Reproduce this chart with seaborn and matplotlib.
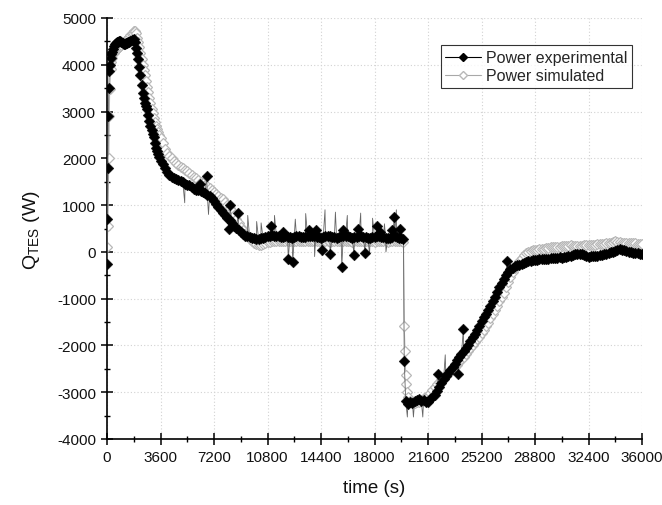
import numpy as np
import pandas as pd
import matplotlib
matplotlib.use("Agg")
import matplotlib.pyplot as plt
import seaborn as sns
from matplotlib.lines import Line2D
from matplotlib.ticker import MultipleLocator

# ---------------- data ----------------
# Experimental power, main samples (marked), by segment
exp_t_a = [0, 30, 60, 90, 120, 150, 195, 240, 285, 330, 390, 450, 525, 600, 675, 750, 825, 900, 975,
           1050, 1125, 1200, 1275, 1350, 1425, 1500, 1575, 1650, 1725, 1800]
exp_p_a = [-250, 700, 1800, 2900, 3500, 3870, 4000, 4150, 4220, 4270, 4340, 4400, 4440, 4470, 4480,
           4490, 4500, 4510, 4490, 4470, 4450, 4440, 4460, 4470, 4480, 4490, 4500, 4520, 4540, 4560]
exp_t_b = [1875, 1950, 2025, 2100, 2175, 2250, 2325, 2400, 2475, 2550, 2625, 2700, 2775, 2850, 2925,
           3000, 3075, 3150, 3225, 3300, 3375, 3450, 3525, 3600]
exp_p_b = [4480, 4350, 4250, 4120, 3950, 3780, 3560, 3400, 3300, 3180, 3120, 3050, 2920, 2800, 2700,
           2600, 2530, 2450, 2330, 2230, 2160, 2100, 2020, 1950]
exp_t_c = [3750, 3900, 4050, 4200, 4350, 4500, 4650, 4800, 4950, 5100, 5250, 5400, 5550, 5700, 5850,
           6000, 6150, 6300, 6450, 6600, 6750, 6900, 7050, 7200, 7350, 7500, 7650, 7800, 7950, 8100,
           8250, 8400, 8550, 8700, 8850, 9000, 9150, 9300, 9450, 9600, 9750, 9900, 10050, 10200,
           10350, 10500, 10650]
exp_p_c = [1870, 1800, 1700, 1650, 1600, 1570, 1560, 1530, 1510, 1490, 1450, 1420, 1430, 1390, 1350,
           1320, 1330, 1310, 1280, 1250, 1220, 1190, 1150, 1090, 1020, 960, 900, 840, 790, 730,
           680, 620, 560, 510, 460, 420, 380, 350, 330, 310, 300, 290, 285, 280,
           290, 300, 320]
exp_t_d = [10800, 10950, 11100, 11250, 11400, 11550, 11700, 11850, 12000, 12150,
           12300, 12450, 12600, 12750, 12900, 13050, 13200, 13350, 13500, 13650,
           13800, 13950, 14100, 14250, 14400, 14550, 14700, 14850, 15000, 15150,
           15300, 15450, 15600, 15750, 15900, 16050, 16200, 16350, 16500, 16650,
           16800, 16950, 17100, 17250, 17400, 17550, 17700, 17850, 18000, 18150,
           18300, 18450, 18600, 18750, 18900, 19050, 19200, 19350, 19500, 19650, 19800]
exp_p_d = [330, 350, 360, 340, 340, 330, 320, 310, 330, 320,
           310, 300, 320, 330, 340, 320, 310, 320, 330, 340,
           350, 330, 320, 310, 300, 320, 330, 340, 340, 320,
           310, 300, 320, 330, 350, 340, 330, 320, 300, 310,
           320, 330, 340, 320, 310, 300, 300, 310, 320, 330,
           330, 320, 310, 300, 290, 300, 320, 330, 310, 300, 300]
exp_t_e = [19950, 20000, 20100, 20250, 20400, 20550, 20700, 20850, 21000, 21150, 21300, 21450,
           21600, 21750, 21900, 22050, 22200, 22350, 22500, 22650, 22800, 22950, 23100, 23250,
           23400, 23550, 23700, 23850, 24000, 24150, 24300, 24450, 24600, 24750, 24900, 25050,
           25200, 25350, 25500, 25650, 25800, 25950, 26100, 26250, 26400, 26550, 26700, 26850,
           27000, 27150, 27300, 27450, 27600, 27750, 27900]
exp_p_e = [280, -2340, -3180, -3250, -3200, -3220, -3180, -3160, -3150, -3190, -3170, -3210,
           -3200, -3150, -3100, -3060, -2980, -2880, -2800, -2720, -2650, -2590, -2520, -2460,
           -2400, -2320, -2250, -2190, -2120, -2050, -1980, -1900, -1820, -1750, -1680, -1580,
           -1480, -1400, -1320, -1240, -1150, -1060, -960, -860, -760, -670, -580, -500,
           -420, -370, -340, -310, -290, -270, -260]
exp_t_f = [28050, 28200, 28350, 28500, 28650, 28800, 28950, 29100, 29250, 29400,
           29550, 29700, 29850, 30000, 30150, 30300, 30450, 30600, 30750, 30900,
           31050, 31200, 31350, 31500, 31650, 31800, 31950, 32100, 32250, 32400,
           32550, 32700, 32850, 33000, 33150, 33300, 33450, 33600, 33750, 33900,
           34050, 34200, 34350, 34500, 34650, 34800, 34950, 35100, 35250, 35400,
           35550, 35700, 35850, 36000]
exp_p_f = [-240, -220, -200, -190, -180, -170, -180, -160, -150, -150,
           -160, -150, -140, -130, -130, -120, -110, -120, -110, -110,
           -90, -80, -60, -50, -40, -40, -50, -60, -80, -100,
           -90, -90, -80, -80, -70, -60, -50, -40, -30, -10,
           0, 20, 40, 60, 50, 30, 10, 0, -10, -20,
           -30, -30, -40, -40]

# Experimental outliers (marked)
exp_out_time = [6260, 6710, 8230, 8280, 8840, 11040, 11820, 12200, 12500, 13620, 14070, 14450,
                15010, 15800, 15910, 16620, 16910, 17360, 18150, 18370, 19160, 19340, 19720,
                22300, 23640, 23980, 26900]
exp_out_power = [1450, 1630, 500, 1000, 830, 560, 420, -160, -220, 460, 460, 40,
                 -40, -330, 460, -60, 490, -20, 560, 420, 460, 740, 480,
                 -2620, -2620, -1650, -200]

# Experimental single-sample spikes (line only)
exp_spk_time = [5230, 6830, 9470, 10070, 10370, 11270, 12670, 13370, 13970, 14670, 15370,
                16170, 17070, 17670, 17870, 18670, 18770, 19470,
                20210, 20620, 21250, 22760]
exp_spk_power = [1050, 800, 780, 650, 620, 780, 700, 820, -100, 900, 850,
                 780, 830, -50, 720, 600, 0, 900,
                 -3530, -3530, -3530, -2200]

# Simulated power, by segment
sim_t_a = [0, 60, 120, 150, 180, 240, 300, 360, 450, 525, 600, 675, 750, 825, 900, 975, 1050, 1125,
           1200, 1275, 1350, 1425, 1500, 1575, 1650, 1725, 1800, 1850, 1900]
sim_p_a = [100, 560, 2000, 2900, 3480, 3900, 4050, 4150, 4250, 4290, 4320, 4340, 4360, 4380, 4400,
           4420, 4450, 4470, 4500, 4520, 4550, 4570, 4600, 4630, 4660, 4690, 4720, 4730, 4730]
sim_t_b = [1950, 2025, 2100, 2175, 2250, 2325, 2400, 2475, 2550, 2625, 2700, 2775, 2850, 2925,
           3000, 3075, 3150, 3225, 3300, 3375, 3450, 3525, 3600]
sim_p_b = [4680, 4580, 4480, 4370, 4250, 4120, 4000, 3890, 3780, 3650, 3520, 3410, 3300, 3180,
           3060, 2960, 2860, 2770, 2690, 2620, 2560, 2500, 2440]
sim_t_c = exp_t_c
sim_p_c = [2320, 2200, 2120, 2050, 2000, 1940, 1900, 1860, 1820, 1790, 1750, 1720, 1680, 1640, 1600,
           1570, 1530, 1500, 1470, 1440, 1400, 1360, 1320, 1290, 1240, 1200, 1160, 1120, 1070, 1010,
           940, 870, 790, 700, 620, 540, 460, 390, 330, 270, 230, 190, 160, 140, 145, 160, 190]
sim_t_d = exp_t_d
sim_p_d = [210, 220, 230, 240, 240, 235, 230, 225, 230, 235,
           235, 230, 225, 230, 235, 240, 235, 230, 225, 230,
           230, 235, 230, 225, 230, 235, 230, 225, 220, 230,
           240, 235, 230, 225, 230, 235, 230, 225, 220, 225,
           230, 235, 230, 225, 230, 235, 230, 225, 220, 230,
           235, 230, 225, 225, 220, 230, 235, 230, 225, 230, 230]
sim_t_e = [19950, 20000, 20050, 20100, 20150, 20200, 20250, 20400, 20550, 20700, 20850, 21000,
           21150, 21300, 21450, 21600, 21750, 21900, 22050, 22200, 22350, 22500, 22650, 22800,
           22950, 23100, 23250, 23400, 23550, 23700, 23850, 24000, 24150, 24300, 24450, 24600,
           24750, 24900, 25050, 25200, 25350, 25500, 25650, 25800, 25950, 26100, 26250, 26400,
           26550, 26700, 26850, 27000, 27150, 27300, 27450, 27600, 27750, 27900]
sim_p_e = [220, -1580, -2110, -2640, -2820, -3000, -3100, -3180, -3210, -3220, -3210, -3200,
           -3170, -3130, -3100, -3080, -3020, -2950, -2890, -2830, -2780, -2740, -2700, -2650,
           -2600, -2560, -2510, -2460, -2410, -2360, -2300, -2240, -2180, -2110, -2050, -1990,
           -1930, -1870, -1810, -1740, -1670, -1590, -1510, -1420, -1330, -1240, -1150, -1060,
           -970, -870, -760, -650, -540, -420, -340, -260, -190, -120]
sim_t_f = exp_t_f
sim_p_f = [-60, -30, 0, 20, 30, 40, 50, 60, 65, 70,
           80, 90, 95, 100, 105, 110, 115, 120, 125, 130,
           135, 140, 135, 130, 125, 120, 130, 140, 145, 150,
           145, 140, 150, 160, 165, 170, 175, 180, 190, 200,
           215, 230, 220, 210, 195, 180, 190, 200, 195, 190,
           180, 170, 165, 160]

x_ticks = [0, 3600, 7200, 10800, 14400, 18000, 21600, 25200, 28800, 32400, 36000]
y_ticks = [-4000, -3000, -2000, -1000, 0, 1000, 2000, 3000, 4000, 5000]

# ---------------- styling ----------------
sns.set_theme(style="white")
plt.rcParams["font.family"] = ["Liberation Sans", "DejaVu Sans"]
plt.rcParams["mathtext.fontset"] = "custom"
plt.rcParams["mathtext.rm"] = "Liberation Sans"
plt.rcParams["mathtext.it"] = "Liberation Sans"
plt.rcParams["axes.unicode_minus"] = False

fig = plt.figure(figsize=(6.62, 5.06), dpi=100)
ax = fig.add_axes([107 / 662, 66 / 506, 535 / 662, 421 / 506])

exp_main = pd.DataFrame({
    "time": exp_t_a + exp_t_b + exp_t_c + exp_t_d + exp_t_e + exp_t_f,
    "power": exp_p_a + exp_p_b + exp_p_c + exp_p_d + exp_p_e + exp_p_f,
})
exp_out = pd.DataFrame({"time": exp_out_time, "power": exp_out_power})
exp_spk = pd.DataFrame({"time": exp_spk_time, "power": exp_spk_power})
exp_line = pd.concat([exp_main, exp_out, exp_spk]).sort_values("time", kind="stable").reset_index(drop=True)
exp_marks = pd.concat([exp_main, exp_out]).reset_index(drop=True)
sim = pd.DataFrame({
    "time": sim_t_a + sim_t_b + sim_t_c + sim_t_d + sim_t_e + sim_t_f,
    "power": sim_p_a + sim_p_b + sim_p_c + sim_p_d + sim_p_e + sim_p_f,
})

sim_edge = "#b8b8b8"
sns.lineplot(data=sim, x="time", y="power", ax=ax, estimator=None, sort=False,
             color="#b0b0b0", lw=0.8, marker="D", markersize=5.5,
             markerfacecolor="white", markeredgecolor=sim_edge, markeredgewidth=0.9, zorder=2)
sns.lineplot(data=exp_line, x="time", y="power", ax=ax, estimator=None, sort=False,
             color="#666666", lw=0.6, zorder=3)
sns.scatterplot(data=exp_marks, x="time", y="power", ax=ax, marker="D", s=30,
                color="black", edgecolor="black", linewidth=0.3, zorder=4)

ax.set_xlim(0, 36000)
ax.set_ylim(-4000, 5000)
ax.set_xticks(x_ticks)
ax.set_yticks(y_ticks)
ax.xaxis.set_minor_locator(MultipleLocator(1800))
ax.yaxis.set_minor_locator(MultipleLocator(500))
ax.grid(True, which="major", ls=(0, (1, 2)), color="#d2d2d2", lw=0.8)
ax.set_axisbelow(True)

for s in ["top", "right"]:
    ax.spines[s].set_visible(False)
for s in ["left", "bottom"]:
    ax.spines[s].set_color("black")
    ax.spines[s].set_linewidth(1.2)

ax.tick_params(which="major", direction="inout", length=8, width=1.1, color="black",
               labelsize=11, labelcolor="#111111", pad=4, left=True, bottom=True)
ax.tick_params(which="minor", direction="inout", length=5, width=1.0, color="black",
               left=True, bottom=True)

ax.set_xlabel("time (s)", fontsize=13.5, labelpad=11, color="#111111")
ax.set_ylabel(r"Q$_{\mathrm{TES}}$ (W)", fontsize=14, labelpad=11, color="#111111")

handles = [
    Line2D([], [], color="black", lw=0.8, marker="D", markersize=4.5,
           markerfacecolor="black", markeredgecolor="black"),
    Line2D([], [], color="#a8a8a8", lw=0.8, marker="D", markersize=4.5,
           markerfacecolor="white", markeredgecolor=sim_edge),
]
leg = ax.legend(handles, ["Power experimental", "Power simulated"], loc="upper right",
                bbox_to_anchor=(0.982, 0.935), frameon=True, fancybox=False,
                edgecolor="black", fontsize=11.5, handlelength=2.2, borderpad=0.3,
                labelspacing=0.2, handletextpad=0.35, borderaxespad=0)
leg.get_frame().set_linewidth(0.8)

fig.savefig("out.png", dpi=100, facecolor="white")
